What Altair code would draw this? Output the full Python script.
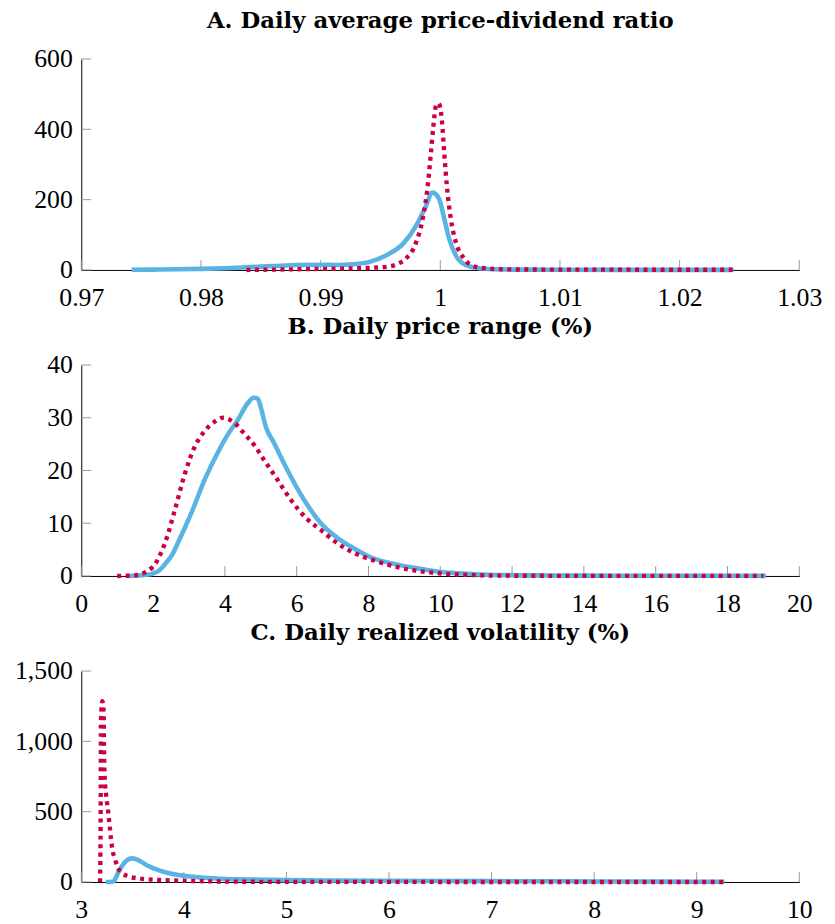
import altair as alt
import pandas as pd

FONT = "Liberation Serif"
TITLE_FONT = "DejaVu Serif"
BLUE = "#5AB4E3"
RED = "#CC0044"
TICK_GRAY = "#9a9a9a"

# ---------------- Panel A: price-dividend ratio ----------------
A_title = "A. Daily average price-dividend ratio"
A_blue_x = [0.9742, 0.976, 0.978, 0.980, 0.982, 0.984, 0.986, 0.988, 0.990, 0.9914, 0.9927,
            0.9941, 0.9955, 0.9969, 0.9980, 0.9987, 0.99936, 0.9999, 1.00033, 1.00074,
            1.00129, 1.00212, 1.0032, 1.0045, 1.006, 1.010, 1.015, 1.020, 1.0245]
A_blue_y = [0.5, 1, 2, 3, 5, 8, 11, 14, 15, 14, 16, 23, 42, 75, 127, 174, 220, 202, 146, 89,
            42, 14, 5, 2, 1, 0.5, 0.3, 0.2, 0.2]
A_red_x = [0.9838, 0.986, 0.988, 0.990, 0.992, 0.9941, 0.9955, 0.9965, 0.99715, 0.9980, 0.99853,
           0.99895, 0.99922, 0.99942, 0.99963, 0.99986, 1.00013, 1.00033, 1.00055, 1.00088,
           1.00129, 1.00198, 1.00295, 1.0043, 1.006, 1.010, 1.015, 1.020, 1.0245]
A_red_y = [0, 1, 2, 3, 4, 6, 9, 18, 33, 80, 146, 239, 333, 408, 465, 474, 427, 333, 239, 146,
           80, 33, 9, 3, 1.5, 1, 0.8, 0.6, 0.5]
A_xticks = [0.97, 0.98, 0.99, 1.0, 1.01, 1.02, 1.03]
A_yticks = [0, 200, 400, 600]

# ---------------- Panel B: price range ----------------
B_title = "B. Daily price range (%)"
B_blue_x = [1.3, 1.6, 1.97, 2.2, 2.34, 2.52, 2.70, 3.07, 3.44, 3.81, 4.08, 4.36, 4.63, 4.8,
            4.92, 5.0, 5.14, 5.37, 5.74, 6.2, 6.66, 7.12, 7.6, 8.04, 8.77, 9.23, 9.97, 10.5,
            11.5, 13, 15, 17, 19.07]
B_blue_y = [0, 0.1, 0.4, 1.2, 2.3, 3.9, 6.4, 12, 18.3, 23.5, 26.8, 29.6, 32.7, 33.8, 33.6, 32,
            28.3, 25.2, 20.1, 14.5, 10.1, 7.3, 5.2, 3.6, 2.2, 1.6, 0.8, 0.5, 0.2, 0.1, 0.05,
            0.03, 0.02]
B_red_x = [1.0, 1.3, 1.6, 1.8, 2.06, 2.34, 2.61, 2.89, 3.16, 3.44, 3.72, 3.94, 4.27, 4.54, 4.82,
           5.09, 5.46, 5.83, 6.29, 6.75, 7.03, 7.39, 8.31, 9.23, 10, 11, 12, 14, 16, 18, 19]
B_red_y = [0, 0.05, 0.2, 0.8, 2.3, 6.4, 12.6, 19.5, 24.5, 27.5, 29.3, 30, 29, 27, 24.8, 22,
           18.3, 14.5, 10.8, 8.3, 6.7, 5.1, 2.6, 1.1, 0.5, 0.15, 0.05, 0.02, 0.01, 0.01, 0.01]
B_xticks = [0, 2, 4, 6, 8, 10, 12, 14, 16, 18, 20]
B_yticks = [0, 10, 20, 30, 40]

# ---------------- Panel C: realized volatility ----------------
C_title = "C. Daily realized volatility (%)"
C_blue_x = [3.24, 3.30, 3.32, 3.354, 3.40, 3.447, 3.495, 3.54, 3.592, 3.65, 3.72, 3.8, 3.88,
            4.04, 4.2, 4.36, 4.62, 5.0, 5.5, 6, 6.5, 7, 7.5, 8, 8.5, 9, 9.27]
C_blue_y = [0, 2, 8, 58, 117, 156, 168, 160, 140, 115, 93, 73, 58, 40, 30, 23, 18, 13, 10, 8,
            7, 6, 5, 4, 3, 2, 2]
C_red_x = [3.183, 3.189, 3.192, 3.205, 3.218, 3.221, 3.228, 3.244, 3.262, 3.277, 3.29, 3.303,
           3.328, 3.383, 3.463, 3.56, 3.75, 3.94, 4.14, 4.4, 4.8, 5.5, 6.5, 7.5, 8.5, 9.27]
C_red_y = [0, 500, 1150, 1285, 1215, 981, 747, 607, 500, 397, 304, 233, 163, 70, 40, 25, 15,
           10, 6, 3, 1, 0.5, 0.2, 0.1, 0.1, 0.1]
C_xticks = [3, 4, 5, 6, 7, 8, 9, 10]
C_yticks = [0, 500, 1000, 1500]

LABEL_SIZE = 26
TITLE_SIZE = 23
PLOT_W = 725
TICK_LEN = 10


def make_axis(values, fmt, is_y):
    kw = dict(
        values=values, format=fmt, title=None,
        grid=False, ticks=False, tickSize=0,
        domain=True, domainColor="black", domainWidth=1,
        labelFont=FONT, labelFontSize=LABEL_SIZE, labelColor="black",
        labelFlush=False, labelOverlap=False,
    )
    if is_y:
        kw.update(labelPadding=9, minExtent=69, maxExtent=69)
    else:
        kw.update(labelPadding=15)
    return alt.Axis(**kw)


def panel(title, bx, by, rx, ry, xdom, xticks, xfmt, ydom, yticks, yfmt, height):
    blue_df = pd.DataFrame({"x": bx, "y": by})
    red_df = pd.DataFrame({"x": rx, "y": ry})
    xt_df = pd.DataFrame({"x": xticks})
    yt_df = pd.DataFrame({"y": yticks})
    xs = alt.Scale(domain=xdom, nice=False, zero=False)
    ys = alt.Scale(domain=ydom, nice=False, zero=True)
    xax = make_axis(xticks, xfmt, False)
    yax = make_axis(yticks, yfmt, True)
    X = alt.X("x:Q", scale=xs, axis=xax)
    Y = alt.Y("y:Q", scale=ys, axis=yax)

    xtick = alt.Chart(xt_df).mark_rule(color=TICK_GRAY, strokeWidth=1).encode(
        x=X, y=alt.value(height), y2=alt.value(height - TICK_LEN)
    )
    ytick = alt.Chart(yt_df).mark_rule(color=TICK_GRAY, strokeWidth=1).encode(
        y=Y, x=alt.value(0), x2=alt.value(TICK_LEN)
    )
    blue = alt.Chart(blue_df).mark_line(
        color=BLUE, strokeWidth=4.6, interpolate="monotone", strokeJoin="round"
    ).encode(x=X, y=Y)
    red = alt.Chart(red_df).mark_line(
        color=RED, strokeWidth=4.4, interpolate="monotone", strokeDash=[4, 4.6], strokeCap="butt"
    ).encode(x=X, y=Y)
    return alt.layer(xtick, ytick, blue, red).properties(
        width=PLOT_W, height=height,
        title=alt.TitleParams(
            title, font=TITLE_FONT, fontSize=TITLE_SIZE, fontWeight="bold", color="black",
            anchor="middle", baseline="alphabetic", offset=-5,
        ),
    )


pA = panel(A_title, A_blue_x, A_blue_y, A_red_x, A_red_y, [0.97, 1.03], A_xticks, ".2~f",
           [0, 600], A_yticks, "d", 213)
pB = panel(B_title, B_blue_x, B_blue_y, B_red_x, B_red_y, [0, 20], B_xticks, "d",
           [0, 40], B_yticks, "d", 213)
pC = panel(C_title, C_blue_x, C_blue_y, C_red_x, C_red_y, [3, 10], C_xticks, "d",
           [0, 1500], C_yticks, ",.0f", 213)

chart = alt.vconcat(pA, pB, pC, spacing=6).properties(
    padding={"left": 5, "top": -2, "right": 5, "bottom": 5}
).configure_view(stroke=None)

chart.save("out.html", embed_options={"renderer": "svg", "actions": False})
